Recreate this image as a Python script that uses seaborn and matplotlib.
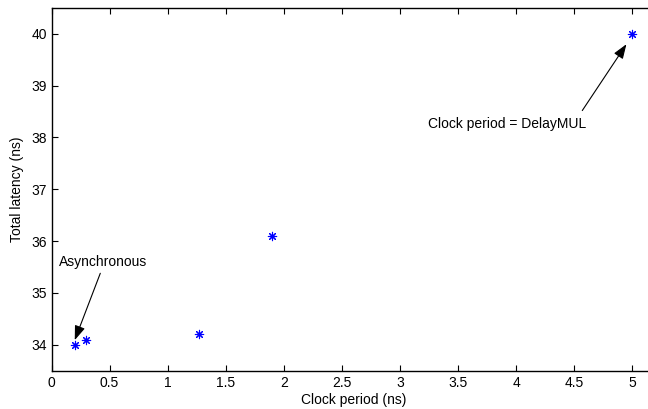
import matplotlib
matplotlib.use("Agg")
import matplotlib.pyplot as plt
import seaborn as sns
import pandas as pd

clock_period = [0.2, 0.3, 1.27, 1.9, 5.0]
total_latency = [34.0, 34.1, 34.2, 36.1, 40.0]
x_ticks = [0, 0.5, 1, 1.5, 2, 2.5, 3, 3.5, 4, 4.5, 5]
y_ticks = [34, 35, 36, 37, 38, 39, 40]

df = pd.DataFrame({"Clock period (ns)": clock_period, "Total latency (ns)": total_latency})

sns.set_style("ticks")
plt.rcParams["font.family"] = ["Liberation Sans", "DejaVu Sans"]
plt.rcParams["xtick.direction"] = "in"
plt.rcParams["ytick.direction"] = "in"
plt.rcParams["text.color"] = "black"
plt.rcParams["axes.labelcolor"] = "black"

fig = plt.figure(figsize=(6.48, 4.09), dpi=100)
ax = fig.add_axes([0.0795, 0.0936, 0.932, 0.887])

sns.scatterplot(data=df, x="Clock period (ns)", y="Total latency (ns)", ax=ax,
                marker=(8, 2, 0), s=36, color="blue", edgecolor="blue", linewidth=0.8)

ax.set_xlim(0, 5.2)
ax.set_ylim(33.5, 40.5)
ax.set_xticks(x_ticks)
ax.set_xticklabels([f"{t:g}" for t in x_ticks])
ax.set_yticks(y_ticks)
ax.tick_params(labelsize=10, length=4, width=0.8, top=True, right=True,
               colors="black", labelcolor="black")
ax.set_xlabel("Clock period (ns)", fontsize=10, labelpad=2.5)
ax.set_ylabel("Total latency (ns)", fontsize=10, labelpad=5)
for s in ax.spines.values():
    s.set_linewidth(1.0)
    s.set_color("black")

arrow = dict(arrowstyle="-|>,head_length=0.55,head_width=0.2", color="black", lw=0.8,
             mutation_scale=16, shrinkA=0, shrinkB=0)
ax.annotate("", xy=(0.2, 34.09), xytext=(0.42, 35.38), arrowprops=arrow)
ax.text(0.44, 35.59, "Asynchronous", fontsize=10, ha="center", va="center")
ax.annotate("", xy=(4.95, 39.8), xytext=(4.57, 38.52), arrowprops=arrow)
ax.text(3.92, 38.27, "Clock period = DelayMUL", fontsize=10, ha="center", va="center")

plt.savefig("out.png", dpi=100)
